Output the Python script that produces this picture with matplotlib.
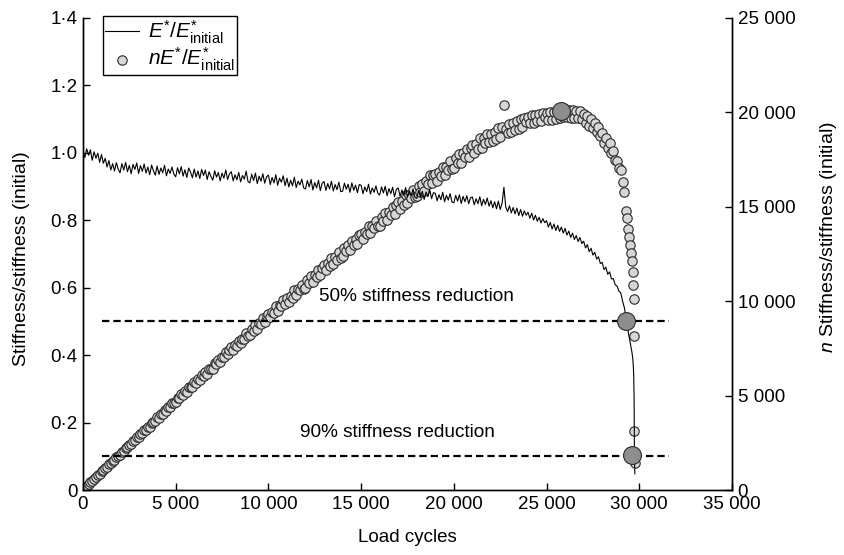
import numpy as np
import matplotlib
matplotlib.use("Agg")
import matplotlib.pyplot as plt
from matplotlib.ticker import FuncFormatter, MultipleLocator

plt.rcParams['font.family'] = ['Liberation Sans', 'DejaVu Sans']
plt.rcParams['mathtext.fontset'] = 'custom'
plt.rcParams['mathtext.rm'] = 'Liberation Sans'
plt.rcParams['mathtext.it'] = 'Liberation Sans:italic'

# stiffness ratio E*/E*initial, sampled every 100 load cycles up to 28 900
ratio_main = [
    1.004, 0.986, 1.012, 0.993, 1.009, 0.978, 1.003, 0.984, 0.999, 0.972,
    0.995, 0.969, 0.984, 0.958, 0.977, 0.949, 0.968, 0.946, 0.971, 0.952,
    0.941, 0.968, 0.949, 0.972, 0.944, 0.963, 0.938, 0.966, 0.951, 0.970,
    0.939, 0.962, 0.945, 0.967, 0.940, 0.958, 0.935, 0.964, 0.947, 0.934,
    0.961, 0.936, 0.955, 0.941, 0.963, 0.932, 0.952, 0.939, 0.958, 0.937,
    0.929, 0.956, 0.938, 0.959, 0.931, 0.950, 0.927, 0.955, 0.943, 0.926,
    0.952, 0.928, 0.946, 0.924, 0.951, 0.933, 0.949, 0.921, 0.944, 0.930,
    0.919, 0.947, 0.928, 0.942, 0.917, 0.940, 0.925, 0.949, 0.921, 0.938,
    0.944, 0.917, 0.935, 0.920, 0.942, 0.914, 0.933, 0.922, 0.946, 0.915,
    0.911, 0.937, 0.918, 0.940, 0.909, 0.931, 0.916, 0.938, 0.910, 0.929,
    0.934, 0.906, 0.927, 0.911, 0.935, 0.904, 0.925, 0.913, 0.932, 0.903,
    0.925, 0.899, 0.919, 0.902, 0.928, 0.897, 0.916, 0.905, 0.922, 0.896,
    0.893, 0.918, 0.899, 0.921, 0.890, 0.912, 0.896, 0.919, 0.888, 0.910,
    0.915, 0.889, 0.909, 0.893, 0.916, 0.887, 0.906, 0.891, 0.913, 0.885,
    0.886, 0.910, 0.892, 0.907, 0.883, 0.911, 0.889, 0.904, 0.882, 0.906,
    0.904, 0.879, 0.899, 0.885, 0.907, 0.878, 0.896, 0.883, 0.902, 0.880,
    0.875, 0.899, 0.881, 0.901, 0.873, 0.894, 0.879, 0.898, 0.870, 0.892,
    0.896, 0.871, 0.890, 0.874, 0.897, 0.869, 0.887, 0.873, 0.893, 0.868,
    0.865, 0.889, 0.868, 0.886, 0.862, 0.884, 0.870, 0.891, 0.864, 0.882,
    0.880, 0.858, 0.876, 0.861, 0.883, 0.855, 0.874, 0.860, 0.879, 0.854,
    0.852, 0.874, 0.857, 0.876, 0.850, 0.871, 0.855, 0.873, 0.849, 0.867,
    0.869, 0.846, 0.864, 0.849, 0.870, 0.843, 0.862, 0.847, 0.866, 0.842,
    0.858, 0.837, 0.855, 0.834, 0.857, 0.832, 0.850, 0.898, 0.839, 0.826,
    0.843, 0.822, 0.838, 0.819, 0.836, 0.814, 0.832, 0.812, 0.828, 0.815,
    0.824, 0.806, 0.821, 0.801, 0.815, 0.797, 0.809, 0.792, 0.805, 0.793,
    0.799, 0.780, 0.794, 0.774, 0.789, 0.770, 0.785, 0.767, 0.780, 0.762,
    0.776, 0.756, 0.768, 0.749, 0.762, 0.743, 0.755, 0.737, 0.749, 0.731,
    0.738, 0.718, 0.728, 0.707, 0.717, 0.697, 0.705, 0.685, 0.692, 0.672,
    0.675, 0.654, 0.661, 0.640, 0.647, 0.626, 0.627, 0.609, 0.605, 0.590,
]
cycles_main = np.arange(0, 100 * len(ratio_main), 100)

# failure zone, sampled more finely
cycles_tail = [29000, 29100, 29200, 29300, 29350, 29400, 29450, 29500, 29550,
               29600, 29650, 29680, 29700, 29720, 29740, 29760]
ratio_tail = [0.585, 0.560, 0.540, 0.505, 0.490, 0.470, 0.455, 0.440, 0.425,
              0.410, 0.390, 0.365, 0.340, 0.275, 0.105, 0.048]

cycles = np.concatenate([cycles_main, cycles_tail])
ratio = np.concatenate([ratio_main, ratio_tail])
n_ratio = cycles * ratio

# highlighted points: peak of n*E/E0, and 50 % / 90 % stiffness reduction
peak_cycles = [25800]
peak_n = [20100]
fail_cycles = [29270, 29620]
fail_ratio = [0.5, 0.105]
reduction_levels = [0.5, 0.1]
reduction_labels = ["50% stiffness reduction", "90% stiffness reduction"]

fig = plt.figure(figsize=(8.44, 5.55), dpi=100)
ax = fig.add_axes([0.0983, 0.117, 0.7690, 0.8506])
ax2 = ax.twinx()
ax.set_zorder(ax2.get_zorder() + 1)
ax.patch.set_visible(False)

# n * E/E0 on the right axis
ax2.scatter(cycles, n_ratio, s=46, facecolor='#d6d6d6', edgecolor='#2b2b2b',
            linewidth=0.8, zorder=2)
ax2.scatter(peak_cycles, peak_n, s=165, facecolor='#8e8e8e',
            edgecolor='#2b2b2b', linewidth=0.8, zorder=3)

# E/E0 on the left axis
ax.plot(cycles, ratio, color='black', lw=0.8, zorder=3)
for lev in reduction_levels:
    ax.hlines(lev, 1000, 31600, colors='black', lw=1.6,
              linestyles=(0, (3.3, 1.8)), zorder=2)
ax.scatter(fail_cycles, fail_ratio, s=165, facecolor='#8e8e8e',
           edgecolor='#2b2b2b', linewidth=0.8, zorder=4)
ax.text(17980, 0.573, reduction_labels[0], fontsize=13.7, ha='center', va='center')
ax.text(16950, 0.171, reduction_labels[1], fontsize=13.7, ha='center', va='center')

# legend proxies
h1, = ax.plot([], [], color='black', lw=0.8)
h2 = ax.scatter([], [], s=46, facecolor='#d6d6d6', edgecolor='#2b2b2b', linewidth=0.8)
leg = ax.legend([h1, h2], [r'$E^{*}/E^{*}_{\rm initial}$', r'$nE^{*}/E^{*}_{\rm initial}$'],
                loc='upper left', bbox_to_anchor=(0.031, 1.004), borderaxespad=0,
                fontsize=15, fancybox=False, edgecolor='black', framealpha=1,
                handlelength=1.6, handletextpad=0.45, borderpad=0.1, labelspacing=0.0)
leg.get_frame().set_linewidth(1.0)

ax.set_xlim(0, 35000)
ax.set_ylim(0, 1.4)
ax2.set_ylim(0, 25000)
ax.xaxis.set_major_locator(MultipleLocator(5000))
ax.yaxis.set_major_locator(MultipleLocator(0.2))
ax2.yaxis.set_major_locator(MultipleLocator(5000))

def thousands(v, pos):
    v = int(round(v))
    if v == 0:
        return "0"
    return "{:,}".format(v).replace(",", " ")

def middot(v, pos):
    if abs(v) < 1e-9:
        return "0"
    return "{:.1f}".format(v).replace(".", "\u00b7")

ax.xaxis.set_major_formatter(FuncFormatter(thousands))
ax2.yaxis.set_major_formatter(FuncFormatter(thousands))
ax.yaxis.set_major_formatter(FuncFormatter(middot))

for a in (ax, ax2):
    a.spines['top'].set_visible(False)
    for sp in a.spines.values():
        sp.set_linewidth(1.0)
    a.tick_params(direction='in', length=5, width=1.0, labelsize=13.5, pad=4)

ax.set_xlabel("Load cycles", fontsize=13.5, labelpad=12)
ax.set_ylabel("Stiffness/stiffness (initial)", fontsize=14)
ax.yaxis.set_label_coords(-0.082, 0.49)
ax2.set_ylabel(r"$n$ Stiffness/stiffness (initial)", fontsize=14)
ax2.yaxis.set_label_coords(1.132, 0.535)

fig.savefig("out.png", dpi=100)
